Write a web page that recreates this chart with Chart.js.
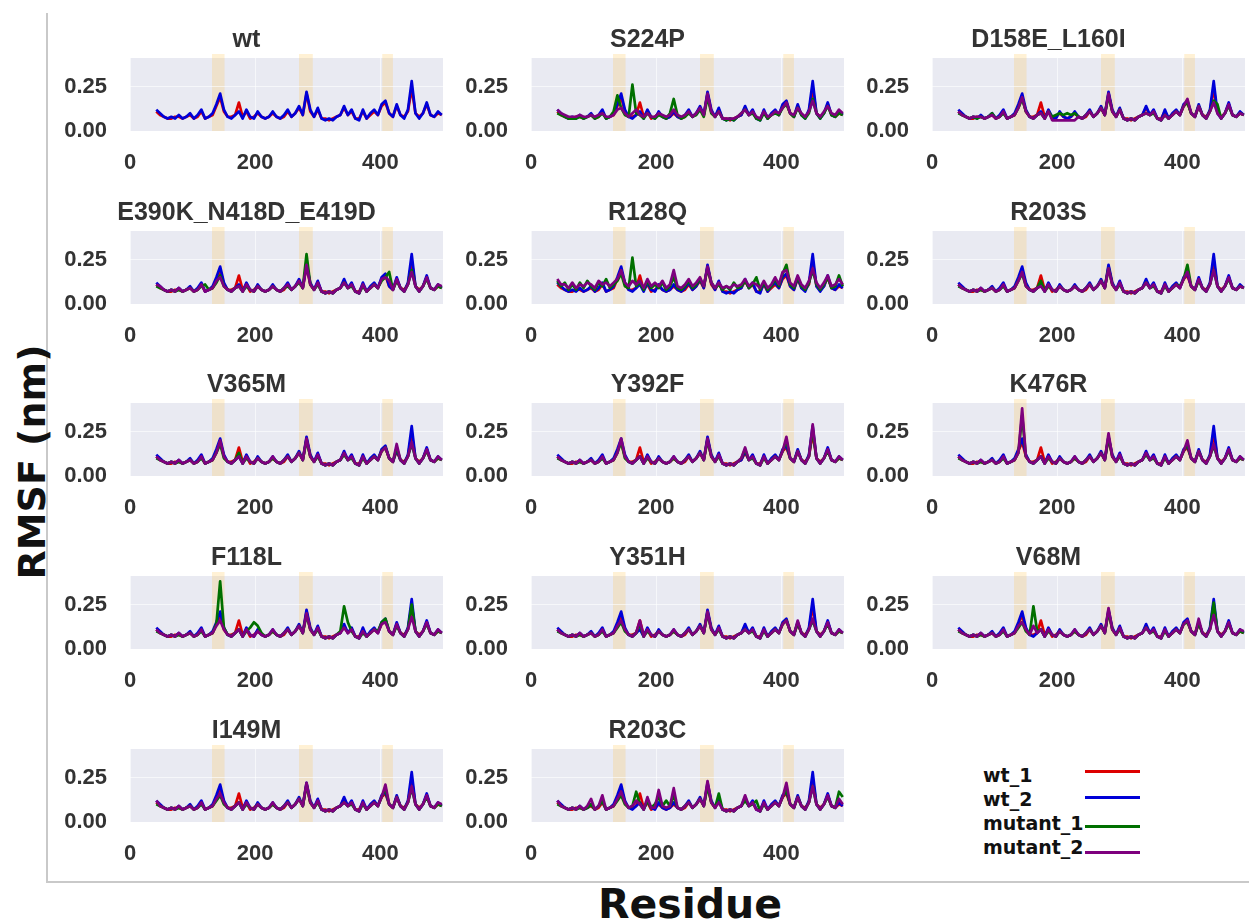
<!DOCTYPE html>
<html><head><meta charset="utf-8">
<script src="https://cdn.jsdelivr.net/npm/chart.js@4.4.1/dist/chart.umd.min.js"></script>
<style>
html,body{margin:0;padding:0;background:#fff}
body{width:1249px;height:921px;position:relative;overflow:hidden;font-family:"DejaVu Sans",sans-serif}
.pw{position:absolute}
#frameL{position:absolute;left:46px;top:13px;width:2px;height:870px;background:#c9c9c9}
#frameB{position:absolute;left:46px;top:881px;width:1203px;height:2px;background:#c9c9c9}
#ylab{position:absolute;left:-118px;top:443px;width:300px;height:38px;line-height:38px;text-align:center;font-size:38px;font-weight:bold;color:#111;transform:rotate(-90deg)}
#xlab{position:absolute;left:540px;top:882px;width:300px;height:44px;line-height:44px;text-align:center;font-size:41px;font-weight:bold;color:#111}
.lt{position:absolute;font-size:19px;font-weight:bold;color:#111;line-height:22px}
.ll{position:absolute;width:55px;height:3px}
</style></head><body>
<div id="frameL"></div><div id="frameB"></div>
<div id="ylab">RMSF (nm)</div>
<div id="xlab">Residue</div>
<div id="legend"></div>
<script>
// residue positions (shared x values)
const residues=[42,48,54,60,66,72,78,84,90,96,
102,108,114,120,126,132,138,144,150,156,
162,168,174,180,186,192,198,204,210,216,
222,228,234,240,246,252,258,264,270,276,
282,288,294,300,306,312,318,324,330,336,
342,348,354,360,366,372,378,384,390,396,
402,408,414,420,426,432,438,444,450,456,
462,468,474,480,486,492,498];

const wt_1=[.11,.09,.08,.07,.07,.08,.08,.07,.08,.09,
.07,.08,.11,.07,.08,.09,.14,.19,.11,.08,
.08,.09,.16,.08,.11,.07,.08,.10,.08,.07,
.08,.10,.08,.07,.08,.11,.08,.10,.13,.09,
.21,.11,.08,.12,.07,.07,.06,.07,.08,.09,
.13,.09,.11,.07,.07,.11,.07,.09,.11,.09,
.14,.16,.10,.08,.14,.09,.08,.11,.24,.10,
.08,.10,.15,.09,.08,.10,.09];

const wt_2=[.12,.10,.08,.07,.08,.07,.09,.07,.08,.10,
.07,.09,.12,.07,.08,.10,.15,.21,.12,.08,
.07,.09,.11,.07,.12,.08,.07,.11,.08,.07,
.08,.11,.08,.07,.09,.12,.08,.10,.14,.09,
.22,.12,.08,.13,.07,.06,.07,.06,.08,.09,
.14,.09,.12,.07,.06,.12,.07,.10,.12,.09,
.15,.17,.10,.08,.15,.09,.07,.12,.28,.10,
.07,.10,.16,.09,.08,.11,.09];

const s224p_m1=[.10,.09,.08,.07,.07,.07,.08,.07,.08,.09,
.07,.08,.10,.07,.08,.11,.20,.13,.09,.08,
.26,.10,.09,.07,.10,.08,.07,.09,.08,.07,
.10,.18,.09,.07,.08,.10,.08,.09,.12,.08,
.19,.10,.08,.11,.07,.06,.07,.06,.08,.10,
.12,.09,.10,.07,.06,.10,.07,.09,.10,.09,
.13,.15,.10,.08,.13,.09,.07,.10,.18,.10,
.07,.10,.14,.09,.08,.10,.09];
const s224p_m2=[.12,.10,.09,.08,.08,.08,.09,.08,.08,.09,
.08,.09,.10,.08,.08,.09,.12,.13,.10,.08,
.10,.12,.09,.08,.10,.08,.08,.10,.09,.08,
.09,.12,.09,.08,.09,.11,.08,.10,.13,.09,
.21,.11,.08,.11,.07,.07,.07,.07,.08,.10,
.12,.09,.11,.08,.07,.11,.08,.09,.11,.10,
.13,.16,.10,.09,.13,.10,.08,.11,.17,.10,
.08,.11,.14,.10,.09,.12,.10];

const d158e_m1=[.10,.09,.08,.07,.08,.07,.08,.07,.08,.10,
.07,.08,.10,.07,.08,.09,.13,.18,.11,.08,
.07,.09,.10,.07,.11,.08,.09,.10,.09,.10,
.09,.10,.08,.07,.09,.11,.08,.10,.13,.09,
.20,.11,.08,.12,.07,.06,.07,.06,.08,.09,
.10,.09,.10,.07,.06,.09,.07,.09,.11,.09,
.14,.16,.10,.08,.14,.09,.07,.11,.17,.15,
.07,.10,.14,.09,.08,.10,.09];
const d158e_m2=[.11,.09,.08,.07,.08,.08,.08,.07,.08,.09,
.07,.08,.11,.07,.08,.09,.13,.19,.11,.08,
.07,.09,.10,.07,.11,.06,.06,.06,.06,.06,
.06,.06,.08,.07,.09,.11,.08,.10,.13,.09,
.21,.11,.08,.12,.07,.06,.07,.06,.08,.09,
.10,.09,.11,.07,.06,.09,.07,.09,.11,.09,
.14,.18,.10,.08,.14,.09,.07,.11,.16,.10,
.07,.10,.15,.09,.08,.10,.09];

const e390k_m1=[.10,.09,.08,.07,.08,.07,.08,.07,.08,.09,
.07,.08,.10,.11,.08,.09,.12,.16,.10,.08,
.07,.09,.10,.07,.10,.08,.07,.10,.08,.07,
.08,.10,.08,.07,.09,.10,.08,.10,.12,.09,
.28,.11,.08,.11,.07,.06,.07,.06,.08,.09,
.12,.09,.10,.07,.06,.10,.07,.09,.11,.09,
.13,.15,.18,.08,.13,.09,.07,.11,.19,.10,
.07,.10,.14,.09,.08,.10,.09];
const e390k_m2=[.11,.10,.08,.07,.08,.07,.09,.07,.08,.09,
.07,.08,.11,.07,.08,.09,.13,.15,.10,.08,
.07,.09,.10,.07,.11,.08,.07,.10,.08,.07,
.08,.10,.08,.07,.09,.11,.08,.10,.13,.09,
.22,.11,.08,.12,.07,.06,.07,.06,.08,.09,
.12,.09,.11,.07,.06,.11,.07,.09,.11,.09,
.14,.15,.13,.08,.14,.09,.07,.11,.18,.10,
.07,.10,.15,.09,.08,.11,.10];

const r128q_m1=[.13,.10,.12,.08,.11,.08,.12,.09,.13,.10,
.08,.12,.10,.14,.09,.11,.13,.17,.10,.09,
.26,.10,.12,.08,.13,.09,.11,.09,.12,.08,
.10,.15,.09,.08,.10,.13,.09,.11,.14,.10,
.20,.12,.09,.11,.08,.10,.08,.12,.09,.10,
.13,.09,.11,.15,.08,.12,.08,.10,.14,.10,
.17,.22,.11,.09,.15,.10,.08,.12,.19,.11,
.08,.11,.15,.09,.10,.16,.10];
const r128q_m2=[.14,.11,.11,.09,.12,.09,.11,.10,.12,.11,
.09,.13,.11,.12,.10,.12,.14,.19,.12,.10,
.13,.11,.13,.09,.14,.10,.12,.10,.13,.09,
.11,.19,.10,.09,.11,.14,.10,.12,.15,.10,
.21,.12,.09,.12,.09,.10,.09,.11,.10,.11,
.14,.10,.12,.11,.09,.13,.09,.11,.15,.11,
.18,.19,.12,.10,.16,.11,.09,.13,.20,.12,
.09,.12,.16,.10,.11,.14,.11];

const r203s_m1=[.10,.09,.08,.07,.08,.07,.08,.07,.08,.09,
.07,.08,.10,.07,.08,.09,.13,.17,.10,.08,
.07,.09,.13,.07,.10,.08,.07,.10,.08,.07,
.08,.10,.08,.07,.09,.11,.08,.10,.13,.09,
.20,.11,.08,.11,.07,.06,.07,.06,.08,.09,
.12,.09,.10,.07,.06,.10,.07,.09,.11,.10,
.14,.22,.10,.08,.13,.09,.07,.11,.19,.10,
.07,.10,.14,.09,.08,.10,.09];
const r203s_m2=[.11,.09,.08,.07,.08,.07,.09,.07,.08,.09,
.07,.08,.11,.07,.08,.09,.13,.18,.10,.08,
.07,.09,.10,.07,.11,.08,.07,.10,.08,.07,
.08,.10,.08,.07,.09,.11,.08,.10,.13,.09,
.20,.11,.08,.12,.07,.06,.07,.06,.08,.09,
.12,.09,.11,.07,.06,.11,.07,.09,.11,.09,
.14,.18,.10,.08,.14,.09,.07,.11,.19,.10,
.07,.10,.15,.09,.08,.10,.09];

const v365m_m1=[.10,.09,.08,.07,.08,.07,.08,.07,.08,.09,
.07,.08,.10,.07,.08,.09,.13,.18,.10,.08,
.07,.09,.13,.07,.10,.08,.07,.10,.08,.07,
.08,.10,.08,.07,.09,.11,.08,.10,.13,.09,
.20,.11,.08,.11,.07,.06,.07,.06,.08,.09,
.12,.09,.10,.07,.06,.10,.07,.09,.11,.09,
.14,.16,.10,.08,.16,.09,.07,.11,.18,.10,
.07,.10,.14,.09,.08,.10,.09];
const v365m_m2=[.11,.09,.08,.07,.08,.07,.09,.07,.08,.09,
.07,.08,.11,.07,.08,.09,.13,.20,.11,.08,
.07,.09,.11,.07,.11,.08,.07,.10,.08,.07,
.08,.11,.08,.07,.09,.11,.08,.10,.13,.09,
.21,.11,.08,.12,.07,.06,.07,.06,.08,.09,
.13,.09,.11,.07,.06,.11,.07,.09,.11,.09,
.14,.16,.10,.08,.18,.09,.07,.11,.19,.10,
.07,.10,.15,.09,.08,.11,.09];

const y392f_m1=[.10,.09,.08,.07,.08,.07,.08,.07,.08,.09,
.07,.08,.10,.07,.08,.09,.13,.19,.10,.08,
.07,.09,.11,.07,.10,.08,.07,.10,.08,.07,
.08,.10,.08,.07,.09,.11,.08,.10,.13,.09,
.20,.11,.08,.11,.07,.06,.07,.06,.08,.10,
.15,.09,.10,.07,.06,.10,.07,.09,.11,.09,
.14,.20,.10,.08,.14,.09,.07,.11,.26,.10,
.07,.10,.14,.09,.08,.10,.09];
const y392f_m2=[.11,.09,.08,.07,.08,.07,.09,.07,.08,.09,
.07,.08,.11,.07,.08,.09,.13,.21,.11,.08,
.07,.09,.11,.07,.11,.08,.07,.10,.08,.07,
.08,.11,.08,.07,.09,.11,.08,.10,.13,.09,
.21,.11,.08,.12,.07,.06,.07,.06,.08,.10,
.16,.09,.11,.07,.06,.11,.07,.09,.11,.09,
.14,.22,.10,.08,.14,.09,.07,.11,.29,.10,
.07,.10,.15,.09,.08,.11,.09];

const k476r_m1=[.10,.09,.08,.07,.08,.07,.08,.07,.08,.09,
.07,.08,.10,.07,.08,.09,.13,.34,.11,.08,
.07,.09,.11,.07,.10,.08,.07,.10,.08,.07,
.08,.10,.08,.07,.09,.11,.08,.10,.13,.09,
.22,.11,.08,.11,.07,.06,.07,.06,.08,.09,
.12,.09,.10,.07,.06,.10,.07,.09,.11,.09,
.14,.18,.10,.08,.14,.09,.07,.11,.17,.10,
.07,.10,.14,.09,.08,.10,.09];
const k476r_m2=[.11,.09,.08,.07,.08,.07,.09,.07,.08,.09,
.07,.08,.11,.07,.08,.09,.13,.38,.11,.08,
.07,.09,.11,.07,.11,.08,.07,.10,.08,.07,
.08,.11,.08,.07,.09,.11,.08,.10,.13,.09,
.24,.11,.08,.12,.07,.06,.07,.06,.08,.09,
.13,.09,.11,.07,.06,.11,.07,.09,.11,.09,
.14,.20,.10,.08,.14,.09,.07,.11,.18,.10,
.07,.10,.15,.09,.08,.11,.09];

const f118l_m1=[.10,.09,.08,.07,.08,.07,.08,.07,.08,.09,
.07,.08,.10,.07,.08,.09,.14,.38,.12,.08,
.07,.09,.11,.07,.10,.12,.15,.13,.09,.07,
.08,.10,.08,.07,.09,.11,.08,.10,.13,.09,
.19,.11,.08,.11,.07,.06,.07,.06,.08,.10,
.24,.15,.10,.07,.06,.09,.07,.09,.11,.10,
.15,.17,.10,.08,.13,.09,.07,.11,.25,.10,
.07,.10,.14,.09,.08,.10,.09];
const f118l_m2=[.11,.09,.08,.07,.08,.07,.09,.07,.08,.09,
.07,.08,.11,.07,.08,.09,.13,.16,.11,.08,
.07,.09,.11,.07,.11,.08,.07,.10,.08,.07,
.08,.11,.08,.07,.09,.11,.08,.10,.13,.09,
.20,.11,.08,.12,.07,.06,.07,.06,.08,.09,
.12,.09,.11,.07,.06,.10,.07,.09,.11,.09,
.14,.15,.10,.08,.14,.09,.07,.11,.18,.10,
.07,.10,.15,.09,.08,.11,.09];

const y351h_m1=[.10,.09,.08,.07,.08,.07,.08,.07,.08,.09,
.07,.08,.10,.07,.08,.09,.12,.15,.10,.08,
.07,.09,.14,.07,.10,.08,.07,.10,.08,.07,
.08,.10,.08,.07,.09,.11,.08,.10,.13,.09,
.20,.11,.08,.11,.07,.06,.07,.06,.08,.09,
.11,.09,.10,.07,.06,.10,.07,.09,.11,.09,
.14,.16,.10,.08,.15,.09,.07,.11,.16,.10,
.07,.10,.14,.09,.08,.10,.09];
const y351h_m2=[.11,.09,.08,.07,.08,.07,.09,.07,.08,.09,
.07,.08,.11,.07,.08,.09,.13,.16,.11,.08,
.07,.09,.16,.07,.11,.08,.07,.10,.08,.07,
.08,.11,.08,.07,.09,.11,.08,.10,.13,.09,
.21,.11,.08,.12,.07,.06,.07,.06,.08,.09,
.11,.09,.11,.07,.06,.11,.07,.09,.11,.09,
.14,.16,.10,.08,.16,.09,.07,.11,.17,.10,
.07,.10,.15,.09,.08,.11,.09];

const v68m_m1=[.10,.09,.08,.07,.08,.07,.08,.07,.08,.09,
.07,.08,.10,.07,.08,.09,.12,.15,.10,.08,
.24,.10,.11,.07,.10,.08,.07,.10,.08,.07,
.08,.10,.08,.07,.09,.11,.08,.10,.13,.09,
.21,.11,.08,.11,.07,.06,.07,.06,.08,.09,
.12,.09,.10,.07,.06,.10,.07,.09,.11,.09,
.14,.15,.10,.08,.15,.09,.07,.11,.26,.10,
.07,.10,.14,.09,.08,.10,.09];
const v68m_m2=[.11,.09,.08,.07,.08,.07,.09,.07,.08,.09,
.07,.08,.11,.07,.08,.09,.13,.15,.11,.08,
.13,.09,.11,.07,.11,.08,.07,.10,.08,.07,
.08,.11,.08,.07,.09,.11,.08,.10,.13,.09,
.23,.11,.08,.12,.07,.06,.07,.06,.08,.09,
.12,.09,.11,.07,.06,.11,.07,.09,.11,.09,
.14,.16,.10,.08,.17,.09,.07,.11,.19,.10,
.07,.10,.15,.09,.08,.11,.10];

const i149m_m1=[.10,.09,.08,.07,.08,.07,.08,.07,.08,.09,
.07,.08,.10,.07,.08,.09,.12,.15,.10,.08,
.07,.09,.11,.07,.10,.08,.07,.10,.08,.07,
.08,.10,.08,.07,.09,.11,.08,.10,.13,.09,
.21,.11,.08,.11,.07,.06,.07,.06,.08,.09,
.11,.09,.10,.07,.06,.10,.07,.09,.11,.09,
.14,.19,.10,.08,.14,.09,.07,.11,.19,.10,
.07,.10,.14,.09,.08,.10,.09];
const i149m_m2=[.12,.09,.08,.07,.08,.07,.09,.07,.08,.09,
.07,.08,.11,.07,.08,.09,.13,.16,.11,.08,
.07,.09,.11,.07,.11,.08,.07,.10,.08,.07,
.08,.11,.08,.07,.09,.11,.08,.10,.13,.09,
.22,.11,.08,.12,.07,.06,.07,.06,.08,.09,
.11,.09,.11,.07,.06,.11,.07,.09,.11,.09,
.14,.21,.10,.08,.14,.09,.07,.11,.20,.10,
.07,.10,.15,.09,.08,.11,.10];

const r203c_m1=[.10,.09,.08,.07,.08,.07,.08,.07,.08,.10,
.07,.09,.12,.07,.08,.09,.12,.15,.10,.08,
.09,.17,.10,.07,.12,.08,.10,.14,.09,.12,
.09,.15,.08,.07,.09,.11,.08,.10,.13,.09,
.20,.11,.08,.16,.07,.06,.07,.06,.08,.09,
.12,.09,.10,.12,.06,.10,.07,.09,.11,.09,
.14,.18,.10,.08,.14,.09,.07,.11,.20,.10,
.07,.10,.14,.09,.08,.17,.14];
const r203c_m2=[.12,.09,.08,.07,.08,.07,.09,.07,.09,.13,
.07,.09,.15,.07,.08,.09,.13,.17,.11,.08,
.09,.12,.10,.07,.14,.08,.08,.18,.09,.08,
.09,.19,.08,.07,.09,.11,.08,.10,.13,.09,
.23,.11,.08,.11,.07,.06,.07,.06,.08,.09,
.15,.09,.11,.07,.06,.11,.07,.09,.11,.09,
.14,.22,.10,.08,.14,.09,.07,.11,.20,.10,
.07,.10,.15,.09,.08,.13,.10];

const panelTitles=['wt','S224P','D158E_L160I','E390K_N418D_E419D','R128Q','R203S',
'V365M','Y392F','K476R','F118L','Y351H','V68M','I149M','R203C'];
const mutant1Sets=[null,s224p_m1,d158e_m1,e390k_m1,r128q_m1,r203s_m1,v365m_m1,y392f_m1,k476r_m1,f118l_m1,y351h_m1,v68m_m1,i149m_m1,r203c_m1];
const mutant2Sets=[null,s224p_m2,d158e_m2,e390k_m2,r128q_m2,r203s_m2,v365m_m2,y392f_m2,k476r_m2,f118l_m2,y351h_m2,v68m_m2,i149m_m2,r203c_m2];
const seriesNames=['wt_1','wt_2','mutant_1','mutant_2'];
const seriesColors=['#dd0000','#0000d8','#007000','#7e007e'];
const xTicks=[0,200,400];
const yTicks=[0,0.25];
const bands=[[131,151],[270,292],[403,420]];

// layout
const COLW=401, ROWH=172.7, AX_L=130, AX_T=58, PW=313, PH=73, YW=80, TOPH=48, BOTH=50, RP=8;
const TXT='#333';
const tickFont={family:'"Liberation Sans", Arial, sans-serif',size:22,weight:'bold'};

const bgPlugin={id:'bgbands',beforeDraw(chart){
  const {ctx,chartArea:a,scales:{x}}=chart;
  ctx.save();
  ctx.fillStyle='#e9eaf2';
  ctx.fillRect(a.left,a.top,a.right-a.left,a.bottom-a.top);
  ctx.fillStyle='rgba(255,195,80,0.24)';
  bands.forEach(([s,e])=>{const x0=x.getPixelForValue(s),x1=x.getPixelForValue(e);ctx.fillRect(x0,a.top-4,x1-x0,a.bottom-a.top+4);});
  ctx.restore();
}};

function pts(vals){return residues.map((r,i)=>({x:r,y:vals[i]}));}

panelTitles.forEach((title,i)=>{
  const r=Math.floor(i/3), c=i%3;
  const top=Math.round(AX_T+r*ROWH)-TOPH;
  const left=AX_L+c*COLW-YW;
  const W=YW+PW+RP, H=TOPH+PH+BOTH;
  const wrap=document.createElement('div');
  wrap.className='pw';
  wrap.style.left=left+'px'; wrap.style.top=top+'px';
  wrap.style.width=W+'px'; wrap.style.height=H+'px';
  const cv=document.createElement('canvas');
  cv.width=W; cv.height=H; cv.style.width=W+'px'; cv.style.height=H+'px';
  wrap.appendChild(cv); document.body.appendChild(wrap);
  const sets=[wt_1,wt_2,mutant1Sets[i],mutant2Sets[i]];
  const datasets=[];
  sets.forEach((s,k)=>{ if(!s) return;
    datasets.push({label:seriesNames[k],data:pts(s),borderColor:seriesColors[k],backgroundColor:seriesColors[k],
      borderWidth:2.7,pointRadius:0,tension:0,order:4-k,borderJoinStyle:'round'});
  });
  new Chart(cv,{type:'line',data:{datasets},plugins:[bgPlugin],
    options:{responsive:false,animation:false,devicePixelRatio:1,
      layout:{padding:{left:0,right:RP,top:0,bottom:0}},
      plugins:{legend:{display:false},tooltip:{enabled:false},
        title:{display:true,text:title,color:TXT,font:{family:'"Liberation Sans", Arial, sans-serif',size:25,weight:'bold',lineHeight:1.2},padding:{top:15,bottom:3}}},
      scales:{
        x:{type:'linear',min:0,max:500,
          afterBuildTicks:s=>{s.ticks=xTicks.map(v=>({value:v}));},
          afterFit:s=>{s.height=BOTH;},
          grid:{color:'rgba(255,255,255,0.6)',lineWidth:1,drawTicks:false},border:{display:false},
          ticks:{padding:19,color:TXT,font:tickFont,maxRotation:0,callback:v=>String(v)}},
        y:{type:'linear',min:0,max:0.41,
          afterBuildTicks:s=>{s.ticks=yTicks.map(v=>({value:v}));},
          afterFit:s=>{s.width=YW;},
          grid:{color:'rgba(255,255,255,0.6)',lineWidth:1,drawTicks:false},border:{display:false},
          ticks:{padding:23,color:TXT,font:tickFont,callback:v=>Number(v).toFixed(2)}}
      }}});
});

// legend (last grid cell)
const lg=document.getElementById('legend');
const legendRows=[{ty:764,ly:771},{ty:788,ly:797},{ty:812,ly:826},{ty:836,ly:852}];
seriesNames.forEach((n,k)=>{
  const t=document.createElement('div');t.className='lt';t.textContent=n;
  t.style.left='983px';t.style.top=legendRows[k].ty+'px';lg.appendChild(t);
  const l=document.createElement('div');l.className='ll';l.style.background=seriesColors[k];
  l.style.left='1085px';l.style.top=(legendRows[k].ly-1)+'px';lg.appendChild(l);
});
</script>
</body></html>
